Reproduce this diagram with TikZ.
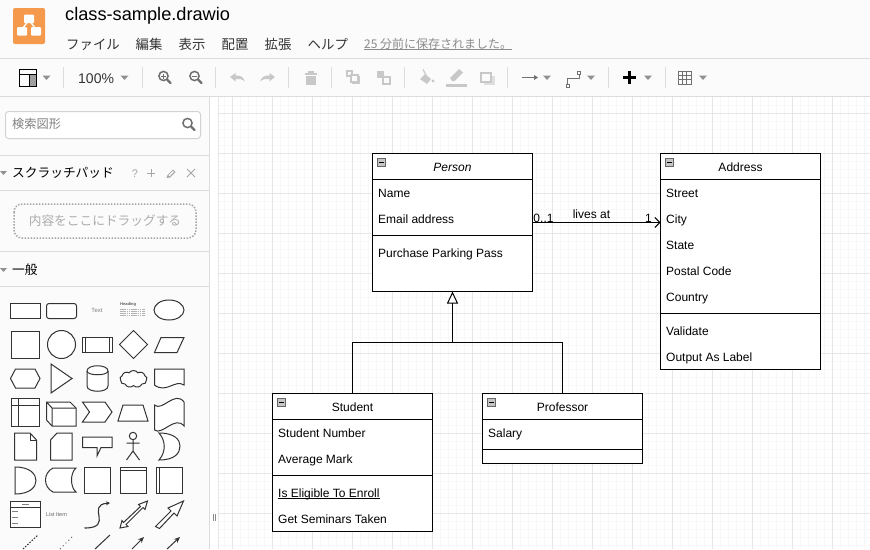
\documentclass[tikz,border=0pt]{standalone}
\usepackage{fontspec}
\setmainfont{Liberation Sans}
\newfontfamily\cjk{Noto Sans CJK JP}
\usetikzlibrary{arrows.meta,shapes.symbols,shapes.geometric}
\definecolor{panel}{HTML}{FBFBFB}
\definecolor{sep}{HTML}{DCDCDC}
\definecolor{gmaj}{HTML}{E6E6E6}
\definecolor{gmin}{HTML}{F8F8F8}
\definecolor{iconoff}{HTML}{C8C8C8}
\definecolor{iconon}{HTML}{707070}
\definecolor{caretc}{HTML}{909090}
\definecolor{ink}{HTML}{333333}
\definecolor{orangeapp}{HTML}{F5994D}
\tikzset{
  classbox/.style={draw=black,line width=1pt,fill=white,inner sep=0pt,outer sep=0pt,minimum width=160pt},
  rowtext/.style={anchor=base west,inner sep=0pt,font=\fontsize{12}{14}\selectfont,text=black},
  titletext/.style={anchor=base,inner sep=0pt,font=\fontsize{12}{14}\selectfont,text=black},
  edgelabel/.style={anchor=base,inner sep=0pt,font=\fontsize{12}{14}\selectfont,text=black},
  menutext/.style={anchor=base west,inner sep=0pt,font=\cjk\fontsize{13.4}{15}\selectfont,text=ink},
  pal/.style={draw=ink,line width=1pt,fill=white,line join=miter},
  sepline/.style={draw=sep,line width=1pt},
  conn/.style={draw=black,line width=1pt},
}
\newcommand{\caretat}[2]{\fill[caretc] (#1-4,#2-2) -- (#1+4,#2-2) -- (#1,#2+2.5) -- cycle;}
\newcommand{\divline}[3]{\draw[black,line width=1pt] (#1,#3) -- (#2,#3);}
\newcommand{\minusicon}[2]{\fill[gray!45] (#1,#2) rectangle ++(8,8);\draw[gray!80!black,line width=.6pt] (#1,#2) rectangle ++(8,8);\draw[black,line width=.8pt] (#1+1.5,#2+4) -- ++(5,0);}
\newcommand{\magglass}[3]{\draw[#3,line width=1.5pt] (#1,#2) circle (4.6);\draw[#3,line width=2.2pt,line cap=round] (#1+3.6,#2+3.6) -- (#1+7.2,#2+7.2);}
\newcommand{\ulx}[2]{\setbox0\hbox{#2}\rlap{\rule[#1]{\wd0}{.8pt}}\box0 }
\begin{document}
\begin{tikzpicture}[x=1pt,y=-1pt]
\useasboundingbox (0,0) rectangle (870,549);
\begin{scope}
\clip (0,0) rectangle (870,549);
\fill[white] (0,0) rectangle (870,549);
% grid
\foreach \gx in {0,...,81}{\draw[gmin,line width=1pt] (224.5+8*\gx,97) -- (224.5+8*\gx,549);}
\foreach \gy in {0,...,56}{\draw[gmin,line width=1pt] (219,105+8*\gy) -- (870,105+8*\gy);}
\foreach \gx in {0,...,16}{\draw[gmaj,line width=1pt] (232.5+40*\gx,97) -- (232.5+40*\gx,549);}
\foreach \gy in {0,...,11}{\draw[gmaj,line width=1pt] (219,113+40*\gy) -- (870,113+40*\gy);}
\draw[gmaj,line width=1pt] (218.5,97) -- (218.5,549);
% top bars
\fill[panel] (0,0) rectangle (870,97);
\draw[sepline] (0,58.5) -- (870,58.5);
\draw[sepline] (0,96.5) -- (870,96.5);
% sidebar
\fill[panel] (0,97) rectangle (209.5,549);
\draw[sepline] (209.5,97) -- (209.5,549);
% app icon
\fill[orangeapp,rounded corners=2pt] (13,8) rectangle (45,44);
\draw[white,line width=1.4pt] (29,20) -- (21,30.5) (29,20) -- (37,30.5);
\fill[white,rounded corners=1pt] (24,14.5) rectangle (34,23);
\fill[white,rounded corners=1pt] (17,27) rectangle (27,35.5);
\fill[white,rounded corners=1pt] (31,27) rectangle (41,35.5);
% title and menu
\node[anchor=base west,inner sep=0pt,font=\fontsize{18.2}{20}\selectfont,text=black] (filename) at (65,20) {class-sample.drawio};
\node[menutext] (mfile) at (66,49) {ファイル};
\node[menutext] (medit) at (135.5,49) {編集};
\node[menutext] (mview) at (178.5,49) {表示};
\node[menutext] (marr) at (221.5,49) {配置};
\node[menutext] (mext) at (264.5,49) {拡張};
\node[menutext] (mhelp) at (307.5,49) {ヘルプ};
\node[anchor=base west,inner sep=0pt,font=\cjk\fontsize{12}{14}\selectfont,text=gray!90] (saved) at (364,48) {\ulx{-1.7pt}{25 分前に保存されました。}};
% toolbar separators
\foreach \sx in {63.5,142.5,215.5,288.5,331.5,404.5,507.5,608.5,665.5}{\draw[sepline] (\sx,67) -- (\sx,88);}
% panel icon
\draw[black,line width=1pt] (19.5,69.5) rectangle (36,86);
\fill[gray!75] (29.5,74) rectangle (36,86);
\draw[black,line width=1pt] (19.5,74) -- (36,74) (29.5,74) -- (29.5,86);
\draw[black,line width=1pt] (19.5,69.5) rectangle (36,86);
\caretat{46.5}{77.5}
\node[anchor=base west,inner sep=0pt,font=\fontsize{14}{16}\selectfont,text=ink] (zoomval) at (78,83) {100\%};
\caretat{124.5}{77.5}
% zoom in/out
\magglass{163.5}{76}{iconon}
\draw[iconon,line width=1pt] (161,76) -- (166,76) (163.5,73.5) -- (163.5,78.5);
\magglass{194.5}{76}{iconon}
\draw[iconon,line width=1pt] (192,76) -- (197,76);
% undo/redo
\fill[iconoff] (230,77) -- (235.5,73) -- (235.5,75.5) .. controls (240,75) and (243.5,77) .. (245,81.5) .. controls (242,79) and (239,78.5) .. (235.5,79) -- (235.5,81.5) -- cycle;
\fill[iconoff] (275,77) -- (269.5,73) -- (269.5,75.5) .. controls (265,75) and (261.5,77) .. (260,81.5) .. controls (263,79) and (266,78.5) .. (269.5,79) -- (269.5,81.5) -- cycle;
% trash
\fill[iconoff] (304.5,72.5) rectangle (317,74.5);
\fill[iconoff] (308,70.5) rectangle (313.5,72.5);
\fill[iconoff] (306,75.5) rectangle (315.5,84.5);
% to front / to back
\draw[iconoff,line width=1.4pt] (347,71) rectangle (352,76);
\fill[iconoff] (352,76) rectangle (360,84);\fill[panel] (351,75) rectangle (358,82);
\draw[iconoff,line width=1.4pt] (351,75) rectangle (358,82);
\fill[iconoff] (377,70.5) rectangle (384,77.5);
\draw[iconoff,line width=1.4pt] (383,77) rectangle (390,84);
% fill bucket
\fill[iconoff] (425,74) -- (431,79) -- (427,84) -- (420,79) -- cycle;
\draw[iconoff,line width=1.2pt] (423,69.5) -- (426,75);
\fill[iconoff] (433,81) circle (1.7);
% pencil
\fill[iconoff] (452,81) -- (450,78) -- (459,69) -- (463,72.5) -- (454.5,81) -- cycle;
\fill[iconoff] (446,84) rectangle (467,86.5);
% shadow
\fill[iconoff!60] (484,76) rectangle (495,85);
\draw[iconoff,line width=1.5pt,fill=panel] (481,73) rectangle (491,82);
% line arrow
\draw[iconon,line width=1pt] (522,77.5) -- (536,77.5);
\fill[iconon] (538,77.5) -- (534,75) -- (534,80) -- cycle;
\caretat{547}{77.5}
% waypoint
\draw[iconon,line width=1pt] (567.5,84) -- (567.5,78.5) -- (579,78.5) -- (579,73);
\draw[iconon,line width=.8pt,fill=white] (566,84) rectangle (569,87);
\draw[iconon,line width=.8pt,fill=white] (577.5,71) rectangle (580.5,74);
\caretat{591}{77.5}
% plus
\fill[black] (622.5,76) rectangle (635.5,79);
\fill[black] (627.5,71) rectangle (630.5,84);
\caretat{648}{77.5}
% table
\draw[iconon,line width=.9pt] (678.5,71.5) rectangle (691,84);
\draw[iconon,line width=.9pt] (678.5,75.7) -- (691,75.7) (678.5,79.8) -- (691,79.8) (682.7,71.5) -- (682.7,84) (686.9,71.5) -- (686.9,84);
\caretat{703}{77.5}
% sidebar search
\draw[draw=gray!35,fill=white,rounded corners=3pt,line width=1pt] (5.5,111.5) rectangle (200.5,138.5);
\node[anchor=base west,inner sep=0pt,font=\cjk\fontsize{12.2}{14}\selectfont,text=gray] (searchtext) at (12,128.5) {検索図形};
\magglass{187.5}{123}{iconon}
% sidebar lines
\foreach \ly in {155.5,190.5,251.5,286.5}{\draw[sepline] (0,\ly) -- (209,\ly);}
% scratchpad
\fill[caretc] (0,171) -- (7,171) -- (3.5,175) -- cycle;
\node[anchor=base west,inner sep=0pt,font=\cjk\fontsize{12.7}{14}\selectfont,text=black] (scratch) at (12,177.5) {スクラッチパッド};
\node[anchor=base,inner sep=0pt,font=\fontsize{11}{12}\selectfont,text=gray!70] (qmark) at (135,177.5) {?};
\draw[gray!70,line width=1pt] (147,173) -- (155,173) (151,169) -- (151,177);
\fill[gray!70] (166.5,178) -- (167.5,175) -- (173,169.5) -- (175.5,172) -- (170,177.5) -- cycle;
\fill[panel] (168.5,175.3) -- (173,171) -- (174,172) -- (169.5,176.3) -- cycle;
\draw[gray!70,line width=1pt] (187,169) -- (195,177) (195,169) -- (187,177);
\draw[gray!70,line width=1.5pt,dash pattern=on 1.5pt off 1.5pt,rounded corners=8pt] (14,204) rectangle (196,238);
\node[anchor=base,inner sep=0pt,font=\cjk\fontsize{12.7}{14}\selectfont,text=gray!65] (droptext) at (105,225) {内容をここにドラッグする};
% general
\fill[caretc] (0,268) -- (7,268) -- (3.5,272) -- cycle;
\node[anchor=base west,inner sep=0pt,font=\cjk\fontsize{12.7}{14}\selectfont,text=black] (general) at (12,274) {一般};
% palette row 1
\draw[pal] (10.5,303.5) rectangle (40.5,318.5);
\draw[pal,rounded corners=2.5pt] (46.5,303.5) rectangle (76.5,318.5);
\node[anchor=center,inner sep=0pt,font=\fontsize{6}{7}\selectfont,text=gray] (paltext) at (97,310) {Text};
\node[anchor=west,inner sep=0pt,font=\bfseries\fontsize{4}{5}\selectfont,text=gray!70!black] (palhead) at (120,304.5) {Heading};
\foreach \ty in {309.5,311.5,313.5,315.5}{\draw[gray!60,line width=.7pt,dash pattern=on 1.5pt off .7pt] (120,\ty) -- (145,\ty);}
\draw[pal] (169,310) ellipse (15 and 10);
% row 2
\draw[pal] (11.5,331.5) rectangle (39.5,358.5);
\draw[pal] (61.5,344.5) circle (14);
\draw[pal] (82.5,337.5) rectangle (112.5,352.5);
\draw[ink,line width=1pt] (85.5,337.5) -- (85.5,352.5) (109.5,337.5) -- (109.5,352.5);
\draw[pal] (133.5,330.5) -- (147.5,344.5) -- (133.5,358.5) -- (119.5,344.5) -- cycle;
\draw[pal] (161,337.5) -- (184,337.5) -- (177,352.5) -- (154.5,352.5) -- cycle;
% row 3
\draw[pal] (15.5,369) -- (35,369) -- (40,378.5) -- (35,388) -- (15.5,388) -- (10.5,378.5) -- cycle;
\draw[pal] (51,364) -- (72,378.5) -- (51,393) -- cycle;
\draw[pal] (87,371) .. controls (87,364) and (108,364) .. (108,371) -- (108,386) .. controls (108,393) and (87,393) .. (87,386) -- cycle;
\draw[ink,line width=1pt] (87,371) .. controls (87,376) and (108,376) .. (108,371);
\node[cloud,cloud puffs=9,cloud puff arc=110,aspect=1.7,pal,inner sep=0pt,minimum width=27pt,minimum height=17pt] (palcloud) at (133.5,379) {};
\draw[pal] (154.5,369) -- (184,369) -- (184,385) .. controls (175,379) and (166,394) .. (154.5,385) -- cycle;
% row 4
\draw[pal] (11.5,398.5) rectangle (39.5,426.5);
\draw[ink,line width=1pt] (18.5,398.5) -- (18.5,426.5) (11.5,405.5) -- (39.5,405.5);
\draw[pal] (46.5,402) -- (70,402) -- (76,408) -- (76,426) -- (52,426) -- (46.5,420) -- cycle;
\draw[ink,line width=1pt] (46.5,402) -- (52,408) -- (76,408) (52,408) -- (52,426);
\draw[pal] (82.5,402) -- (105,402) -- (112,412) -- (105,422) -- (82.5,422) -- (89.5,412) -- cycle;
\draw[pal] (123,405) -- (143,405) -- (148,421) -- (118,421) -- cycle;
\draw[pal] (154.5,405) .. controls (162,412) and (175,390) .. (184,402) -- (184,426) .. controls (175,415) and (162,436) .. (154.5,430) -- cycle;
% row 5
\draw[pal] (14.5,433) -- (30,433) -- (36.5,440) -- (36.5,460) -- (14.5,460) -- cycle;
\draw[ink,line width=1pt] (30,433) -- (30,440) -- (36.5,440);
\draw[pal] (57,433) -- (72,433) -- (72,460) -- (50.5,460) -- (50.5,440) -- cycle;
\draw[pal] (82.5,437) -- (112,437) -- (112,447.5) -- (101,447.5) -- (97,456) -- (97,447.5) -- (82.5,447.5) -- cycle;
\draw[ink,line width=1pt] (133,436) circle (3.7);
\draw[ink,line width=1pt] (133,440) -- (133,451) (126.5,443) -- (139.5,443) (133,451) -- (126.5,460) (133,451) -- (139.5,460);
\draw[pal] (159,433) .. controls (175,433) and (180,440) .. (180,446) .. controls (180,453) and (175,460) .. (159,460) .. controls (166,452) and (166,441) .. (159,433) -- cycle;
% row 6
\draw[pal] (15,467) .. controls (30,467) and (36,474) .. (36,480.5) .. controls (36,487) and (30,494) .. (15,494) -- cycle;
\draw[pal] (53,468) -- (76,468) .. controls (70,473) and (70,487) .. (76,492) -- (53,492) .. controls (43,487) and (43,473) .. (53,468) -- cycle;
\draw[pal] (84.5,467.5) rectangle (110.5,493.5);
\draw[pal] (120.5,467.5) rectangle (146.5,493.5);
\draw[ink,line width=1pt] (120.5,470.5) -- (146.5,470.5);
\draw[pal] (156.5,467.5) rectangle (182.5,493.5);
\draw[ink,line width=1pt] (159.5,467.5) -- (159.5,493.5);
% row 7
\draw[pal] (10.5,501.5) rectangle (40.5,527.5);
\draw[ink,line width=1pt] (10.5,507.5) -- (40.5,507.5);
\foreach \ty in {511,517,523}{\draw[gray,line width=.8pt] (12,\ty) -- (18,\ty);}
\draw[gray,line width=.7pt] (22,504.5) -- (29,504.5);
\node[anchor=center,inner sep=0pt,font=\fontsize{5.5}{6}\selectfont,text=gray!80!black] (pallist) at (56.5,514.5) {List Item};
\draw[ink,line width=1.1pt,-{Stealth[length=4pt,width=4pt]}] (84.5,528) .. controls (115,528) and (85,505) .. (110,503);
\draw[pal] (120,528) -- (122,520.5) -- (123.5,522.5) -- (140.5,506.5) -- (138.5,504.5) -- (147.5,501) -- (145,509.5) -- (143,507.5) -- (126,524.5) -- (128,526.5) -- cycle;
\draw[pal] (155.5,526.5) -- (171,511) -- (168,508) -- (183.5,501) -- (177,516) -- (174,513) -- (159.5,528.5) -- cycle;
% row 8
\draw[ink,line width=1pt,dash pattern=on 1.5pt off 1.5pt] (23,549) -- (38,535);
\draw[ink!80,line width=1pt,dash pattern=on 1pt off 3pt] (60,549) -- (73,536);
\draw[ink,line width=1pt] (95,549) -- (110,535);
\draw[ink,line width=1pt,-{Stealth[length=6pt,width=5pt]}] (132,549) -- (144,537);
\draw[ink,line width=1pt,-{Stealth[length=6pt,width=5pt]}] (167,549) -- (180,537);
% splitter handle
\draw[gray!90,line width=1pt] (213.5,514) -- (213.5,521) (215.5,514) -- (215.5,521);
% === diagram ===
\node[classbox,minimum height=138pt] (person) at (452.5,222.5) {};
\node[classbox,minimum height=216pt] (address) at (740.5,261.5) {};
\node[classbox,minimum height=138pt] (student) at (352.5,462.5) {};
\node[classbox,minimum height=70pt] (professor) at (562.5,428.5) {};
\divline{372.5}{532.5}{179.5}
\divline{372.5}{532.5}{235.5}
\divline{660.5}{820.5}{179.5}
\divline{660.5}{820.5}{313.5}
\divline{272.5}{432.5}{419.5}
\divline{272.5}{432.5}{475.5}
\divline{482.5}{642.5}{419.5}
\divline{482.5}{642.5}{449.5}
\minusicon{377.5}{158}
\minusicon{665.5}{158}
\minusicon{277.5}{398}
\minusicon{487.5}{398}
% Person
\node[titletext,font=\itshape\fontsize{12}{14}\selectfont] (personT) at (452.5,171) {Person};
\node[rowtext] (p1) at (378,197) {Name};
\node[rowtext] (p2) at (378,223) {Email address};
\node[rowtext] (p3) at (378,257) {Purchase Parking Pass};
% Address
\node[titletext] (addressT) at (740.5,171) {Address};
\node[rowtext] (a1) at (666,197) {Street};
\node[rowtext] (a2) at (666,223) {City};
\node[rowtext] (a3) at (666,249) {State};
\node[rowtext] (a4) at (666,275) {Postal Code};
\node[rowtext] (a5) at (666,301) {Country};
\node[rowtext] (a6) at (666,335) {Validate};
\node[rowtext] (a7) at (666,361) {Output As Label};
% Student
\node[titletext] (studentT) at (352.5,411) {Student};
\node[rowtext] (s1) at (278,437) {Student Number};
\node[rowtext] (s2) at (278,463) {Average Mark};
\node[rowtext] (s3) at (278,497) {\ulx{-1.3pt}{Is Eligible To Enroll}};
\node[rowtext] (s4) at (278,523) {Get Seminars Taken};
% Professor
\node[titletext] (professorT) at (562.5,411) {Professor};
\node[rowtext] (f1) at (488,437) {Salary};
% connectors
\coordinate (fork) at (452.5,342.5);
\draw[conn] (student.north) |- (fork);
\draw[conn] (professor.north) |- (fork);
\draw[conn,-{Triangle[open,length=12pt,width=11pt]}] (fork) -- (person.south);
\draw[conn,-{Straight Barb[length=5pt,width=10pt]}] (person.east) -- (person.east -| address.west);
\node[edgelabel] (lv) at (591.5,218) {lives at};
\node[edgelabel] (m1) at (543.5,222) {0..1};
\node[edgelabel] (m2) at (648.5,222) {1};
\end{scope}
\end{tikzpicture}
\end{document}
